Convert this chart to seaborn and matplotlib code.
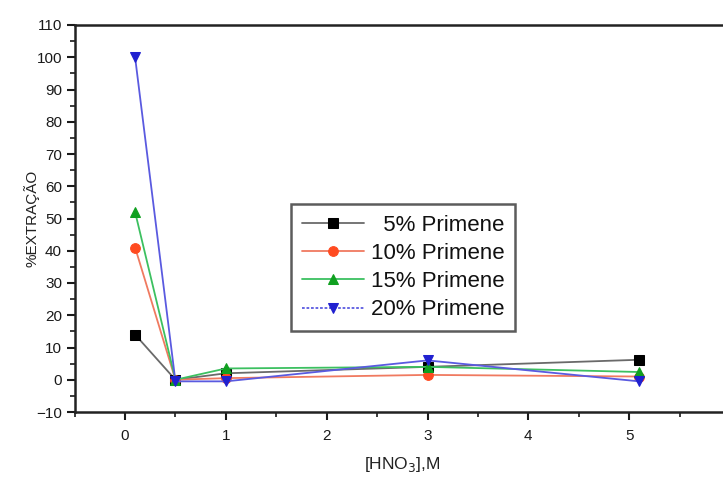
import matplotlib
matplotlib.use("Agg")
import matplotlib.pyplot as plt
from matplotlib.ticker import MultipleLocator
import seaborn as sns
import pandas as pd

# ---- data ----
hno3 = [0.1, 0.5, 1.0, 3.0, 5.1]
series_names = ["5% Primene", "10% Primene", "15% Primene", "20% Primene"]
p5 = [14, 0, 2, 4, 6.2]
p10 = [41, 0, 0.5, 1.5, 1]
p15 = [52, 0, 3.5, 4, 2.4]
p20 = [100, -0.5, -0.5, 6, -0.5]
x_ticks = [0, 1, 2, 3, 4, 5, 6]
y_ticks = [-10, 0, 10, 20, 30, 40, 50, 60, 70, 80, 90, 100, 110]

values = [p5, p10, p15, p20]
rows = []
for name, vals in zip(series_names, values):
    for x, y in zip(hno3, vals):
        rows.append({"HNO3": x, "ext": y, "serie": name})
df = pd.DataFrame(rows)

sns.set_theme(style="ticks")
plt.rcParams["font.family"] = ["Liberation Sans", "DejaVu Sans"]

fig = plt.figure(figsize=(7.23, 4.79), dpi=100)
# x=-0.5 at px 74.6, 100.8 px/unit -> x=6 at ~730 px
ax = fig.add_axes([74.6 / 723, (479 - 412) / 479, (730 - 74.6) / 723, 387 / 479])

line_colors = ["#6a6a6a", "#f07a60", "#3cc060", "#5a5ae0"]
marker_colors = ["#000000", "#ff4a20", "#10a020", "#2020d0"]
markers = ["s", "o", "^", "v"]

# right-align the labels like the reference (pad the short one)
width = max(len(n) for n in series_names)
labels = [("  " * (width - len(n))) + n for n in series_names]

for i, name in enumerate(series_names):
    sub = df[df["serie"] == name]
    sns.lineplot(data=sub, x="HNO3", y="ext", ax=ax, color=line_colors[i],
                 marker=markers[i], markersize=7, markerfacecolor=marker_colors[i],
                 markeredgecolor=marker_colors[i], linewidth=1.3, label=labels[i],
                 estimator=None, sort=False)

ax.set_xlim(-0.5, 6.0)
ax.set_ylim(-10, 110)
ax.set_xticks(x_ticks)
ax.set_yticks(y_ticks)
ax.xaxis.set_minor_locator(MultipleLocator(0.5))
ax.yaxis.set_minor_locator(MultipleLocator(5))
ax.tick_params(axis="both", which="major", direction="out", length=6, width=1.5,
               labelsize=11, colors="#1a1a1a", pad=3)
ax.tick_params(axis="both", which="minor", direction="out", length=3.5, width=1.2,
               colors="#1a1a1a")
ax.tick_params(axis="x", which="major", pad=6)

for s in ["left", "bottom", "top"]:
    ax.spines[s].set_linewidth(1.8)
    ax.spines[s].set_color("#222222")
ax.spines["right"].set_visible(False)

ax.set_xlabel("[HNO$_3$],M", fontsize=12.5, color="#222222", labelpad=9)
ax.set_ylabel("%EXTRAÇÃO", fontsize=11, color="#222222", labelpad=-2)

leg = ax.legend(loc="center", bbox_to_anchor=(0.501, 0.373), fontsize=16,
                frameon=True, fancybox=False, edgecolor="#333333",
                handlelength=2.8, handletextpad=0.3, labelspacing=0.32,
                borderpad=0.5, borderaxespad=0)
leg.get_frame().set_linewidth(1.8)
for t in leg.get_texts():
    t.set_color("#111111")
leg.get_lines()[3].set_linestyle((0, (1.5, 1)))

fig.savefig("out.png", dpi=100)
